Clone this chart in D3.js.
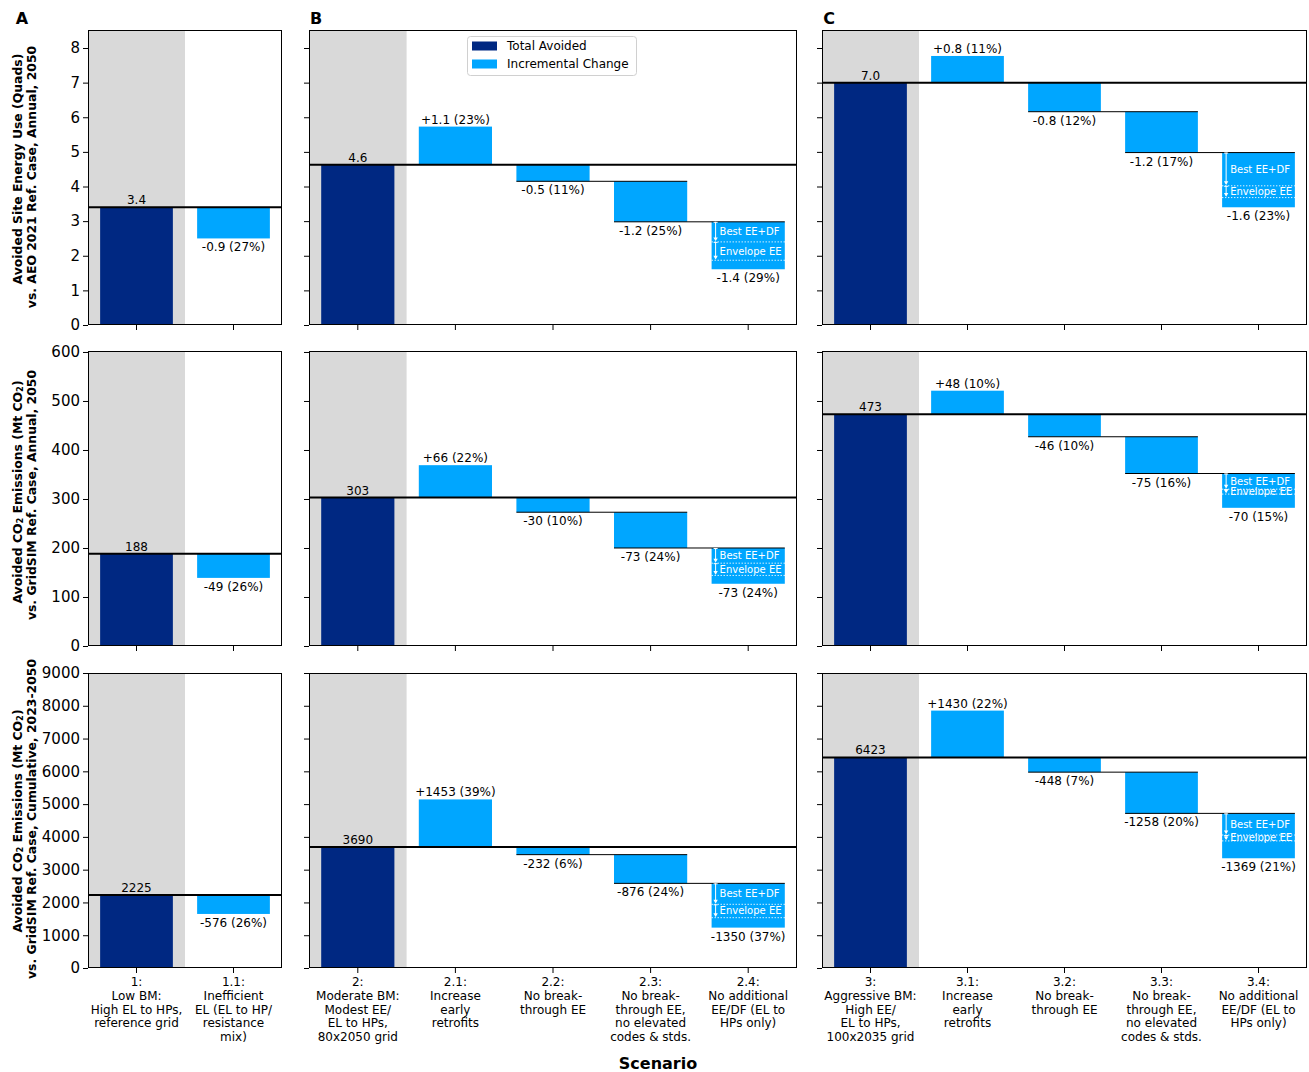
<!DOCTYPE html>
<html><head><meta charset="utf-8">
<script src="https://cdn.jsdelivr.net/npm/d3@7"></script>
<style>body{margin:0;background:#fff}svg{display:block;font-family:"DejaVu Sans",sans-serif}</style>
</head><body><svg id="c" width="1309" height="1072"></svg>
<script>
// ---------- DATA ----------
const scenarioIds = [["1", "1.1"], ["2", "2.1", "2.2", "2.3", "2.4"], ["3", "3.1", "3.2", "3.3", "3.4"]];
const scenarioLabels = [
  [["1:", "Low BM:", "High EL to HPs,", "reference grid"],
   ["1.1:", "Inefficient", "EL (EL to HP/", "resistance", "mix)"]],
  [["2:", "Moderate BM:", "Modest EE/", "EL to HPs,", "80x2050 grid"],
   ["2.1:", "Increase", "early", "retrofits"],
   ["2.2:", "No break-", "through EE"],
   ["2.3:", "No break-", "through EE,", "no elevated", "codes & stds."],
   ["2.4:", "No additional", "EE/DF (EL to", "HPs only)"]],
  [["3:", "Aggressive BM:", "High EE/", "EL to HPs,", "100x2035 grid"],
   ["3.1:", "Increase", "early", "retrofits"],
   ["3.2:", "No break-", "through EE"],
   ["3.3:", "No break-", "through EE,", "no elevated", "codes & stds."],
   ["3.4:", "No additional", "EE/DF (EL to", "HPs only)"]]
];
const panelLetters = ["A", "B", "C"];

// Row 1: site energy (Quads)
const siteTotals = [3.4, 4.63, 7.0];
const siteDeltas = [[-0.9], [1.1, -0.48, -1.17, -1.37], [0.77, -0.84, -1.18, -1.58]];
const sitePct = [[27], [23, 11, 25, 29], [11, 12, 17, 23]];
const siteSplit = [null, [0.58, 0.53], [0.96, 0.34]]; // Best EE+DF, Envelope EE
const siteTicks = [0, 1, 2, 3, 4, 5, 6, 7, 8];
const siteMax = 8.52;

// Row 2: annual CO2 (Mt)
const co2Totals = [188, 303, 473];
const co2Deltas = [[-49], [66, -30, -73, -73], [48, -46, -75, -70]];
const co2Pct = [[26], [22, 10, 24, 24], [10, 10, 16, 15]];
const co2Split = [null, [31, 25], [32, 10]];
const co2Ticks = [0, 100, 200, 300, 400, 500, 600];
const co2Max = 602;

// Row 3: cumulative CO2 (Mt)
const cumTotals = [2225, 3690, 6423];
const cumDeltas = [[-576], [1453, -232, -876, -1350], [1430, -448, -1258, -1369]];
const cumPct = [[26], [39, 6, 24, 37], [22, 7, 20, 21]];
const cumSplit = [null, [639, 408], [660, 180]];
const cumTicks = [0, 1000, 2000, 3000, 4000, 5000, 6000, 7000, 8000, 9000];
const cumMax = 9000;

const legendItems = ["Total Avoided", "Incremental Change"];
const splitLabels = ["Best EE+DF", "Envelope EE"];

// ---------- LAYOUT ----------
const colX = [[88, 282], [309, 797], [822, 1307]];
const rowY = [[30, 325], [351, 646], [673, 968]];
const NAVY = "#002882", LIGHT = "#00a6ff", GRAY = "#d9d9d9";

const rows = [
  {totals: siteTotals, deltas: siteDeltas, pct: sitePct, split: siteSplit, ticks: siteTicks, max: siteMax, fmt: d3.format(".1f"), sfmt: d3.format("+.1f"),
   labTxt: "vs. AEO 2021 Ref. Case, Annual, 2050", labC: [169, 177]},
  {totals: co2Totals, deltas: co2Deltas, pct: co2Pct, split: co2Split, ticks: co2Ticks, max: co2Max, fmt: d3.format("d"), sfmt: d3.format("+d"),
   labTxt: "vs. GridSIM Ref. Case, Annual, 2050", labC: [492, 495]},
  {totals: cumTotals, deltas: cumDeltas, pct: cumPct, split: cumSplit, ticks: cumTicks, max: cumMax, fmt: d3.format("d"), sfmt: d3.format("+d"),
   labTxt: "vs. GridSIM Ref. Case, Cumulative, 2023-2050", labC: [821, 819]}
];

const svg = d3.select("#c");

function minusFix(s){ return s.replace("\u2212", "-"); }

rows.forEach((row, r) => {
  const [y0, y1] = rowY[r];
  const y = d3.scaleLinear().domain([0, row.max]).range([y1, y0]);
  colX.forEach(([x0, x1], c) => {
    const ids = scenarioIds[c];
    const x = d3.scaleBand().domain(ids).range([x0, x1]).paddingInner(0.25).paddingOuter(0.125);
    const g = svg.append("g");
    const step = x.step(), bw = x.bandwidth();
    g.append("rect").attr("x", x0).attr("y", y0).attr("width", step).attr("height", y1 - y0).attr("fill", GRAY);
    const total = row.totals[c];
    g.append("rect").attr("x", x(ids[0])).attr("y", y(total)).attr("width", bw).attr("height", y(0) - y(total)).attr("fill", NAVY);
    let prevEnd = total;
    const segs = [];
    row.deltas[c].forEach((d, k) => {
      const start = (k <= 1) ? total : prevEnd;
      const end = start + d;
      segs.push({id: ids[k + 1], start, end, d, pct: row.pct[c][k], k});
      prevEnd = end;
    });
    segs.forEach(s => {
      const top = Math.max(s.start, s.end), bot = Math.min(s.start, s.end);
      g.append("rect").attr("x", x(s.id)).attr("y", y(top)).attr("width", bw).attr("height", y(bot) - y(top)).attr("fill", LIGHT);
    });
    segs.forEach((s, i) => {
      if (s.k >= 2) {
        const prev = segs[i - 1];
        g.append("line").attr("x1", x(prev.id)).attr("x2", x(s.id) + bw)
          .attr("y1", y(s.start)).attr("y2", y(s.start)).attr("stroke", "#000").attr("stroke-width", 1);
      }
    });
    const sp = row.split[c];
    if (sp) {
      const s = segs[segs.length - 1];
      const bx = x(s.id);
      const lv1 = s.start - sp[0], lv2 = lv1 - sp[1];
      const levels = [[s.start, lv1], [lv1, lv2]];
      levels.forEach(([a, b], j) => {
        const ya = y(a), yb = y(b);
        g.append("line").attr("x1", bx).attr("x2", bx + bw).attr("y1", yb).attr("y2", yb)
          .attr("stroke", "#fff").attr("stroke-width", 1).attr("stroke-dasharray", "1.2,1.8");
        const ax = bx + 4;
        g.append("line").attr("x1", ax).attr("x2", ax).attr("y1", ya).attr("y2", yb - 2)
          .attr("stroke", "#fff").attr("stroke-width", 1);
        g.append("line").attr("x1", ax - 2).attr("x2", ax + 2).attr("y1", ya + 0.5).attr("y2", ya + 0.5)
          .attr("stroke", "#fff").attr("stroke-width", 1);
        g.append("path").attr("d", `M${ax - 2.2},${yb - 4.5}L${ax + 2.2},${yb - 4.5}L${ax},${yb - 0.8}Z`).attr("fill", "#fff");
        g.append("text").attr("x", bx + 8).attr("y", (ya + yb) / 2).attr("dominant-baseline", "central")
          .attr("fill", "#fff").attr("font-size", 10).text(splitLabels[j]);
      });
    }
    g.append("line").attr("x1", x0).attr("x2", x1).attr("y1", y(total)).attr("y2", y(total))
      .attr("stroke", "#000").attr("stroke-width", 2);
    g.append("text").attr("x", x(ids[0]) + bw / 2).attr("y", y(total) - 3).attr("text-anchor", "middle")
      .attr("font-size", 12).text(row.fmt(total));
    segs.forEach(s => {
      const t = minusFix(row.sfmt(s.d)) + " (" + s.pct + "%)";
      const tx = x(s.id) + bw / 2;
      if (s.d >= 0) {
        g.append("text").attr("x", tx).attr("y", y(s.end) - 3).attr("text-anchor", "middle").attr("font-size", 12).text(t);
      } else {
        g.append("text").attr("x", tx).attr("y", y(s.end) + 13).attr("text-anchor", "middle").attr("font-size", 12).text(t);
      }
    });
    const yAxis = d3.axisLeft(y).tickValues(row.ticks).tickSize(5).tickPadding(3).tickFormat(c === 0 ? d3.format("d") : "");
    const ga = svg.append("g").attr("transform", `translate(${x0},0)`).call(yAxis);
    ga.select(".domain").remove();
    ga.selectAll("text").attr("font-size", 15).attr("font-family", "DejaVu Sans");
    const xAxis = d3.axisBottom(x).tickSize(5).tickFormat("");
    const gx = svg.append("g").attr("transform", `translate(0,${y1})`).call(xAxis);
    gx.select(".domain").remove();
    if (r === 2) {
      ids.forEach((id, i) => {
        const t = svg.append("text").attr("x", x(id) + bw / 2).attr("y", y1 + 18).attr("text-anchor", "middle").attr("font-size", 12);
        scenarioLabels[c][i].forEach((ln, li) => {
          t.append("tspan").attr("x", x(id) + bw / 2).attr("dy", li === 0 ? 0 : 13.8).text(ln);
        });
      });
    }
    svg.append("rect").attr("x", x0 + 0.5).attr("y", y0 + 0.5).attr("width", x1 - x0 - 1).attr("height", y1 - y0 - 1)
      .attr("fill", "none").attr("stroke", "#000").attr("stroke-width", 1);
    if (r === 0) {
      svg.append("text").attr("x", c === 0 ? 22 : x0 + 7).attr("y", 24).attr("text-anchor", "middle")
        .attr("font-weight", "bold").attr("font-size", 16).text(panelLetters[c]);
    }
    if (r === 0 && c === 1) {
      const lg = svg.append("g");
      lg.append("rect").attr("x", 467.5).attr("y", 36.5).attr("width", 169).attr("height", 39).attr("rx", 3)
        .attr("fill", "#fff").attr("stroke", "#d0d0d0");
      [NAVY, LIGHT].forEach((col, i) => {
        lg.append("rect").attr("x", 472).attr("y", 41.5 + i * 18).attr("width", 25).attr("height", 9).attr("fill", col);
        lg.append("text").attr("x", 507).attr("y", 46 + i * 18).attr("dominant-baseline", "central").attr("font-size", 12).text(legendItems[i]);
      });
    }
  });
  const yc = row.labC;
  function ylab(xpos, center, parts) {
    const t = svg.append("text").attr("transform", `translate(${xpos},${center}) rotate(-90)`).attr("text-anchor", "middle")
      .attr("dominant-baseline", "central").attr("font-weight", "bold").attr("font-size", 12.4);
    parts.forEach(p => {
      if (p.sub) t.append("tspan").attr("font-size", 8.3).attr("dy", 3).text(p.t);
      else t.append("tspan").attr("dy", p.after ? -3 : 0).text(p.t);
    });
  }
  if (r === 0) {
    ylab(17, yc[0], [{t: "Avoided Site Energy Use (Quads)"}]);
  } else {
    ylab(17, yc[0], [{t: "Avoided CO"}, {t: "2", sub: true}, {t: " Emissions (Mt CO", after: true}, {t: "2", sub: true}, {t: ")", after: true}]);
  }
  ylab(31, yc[1], [{t: row.labTxt}]);
});

svg.append("text").attr("x", 658).attr("y", 1069).attr("text-anchor", "middle").attr("font-weight", "bold").attr("font-size", 16).text("Scenario");
</script></body></html>
